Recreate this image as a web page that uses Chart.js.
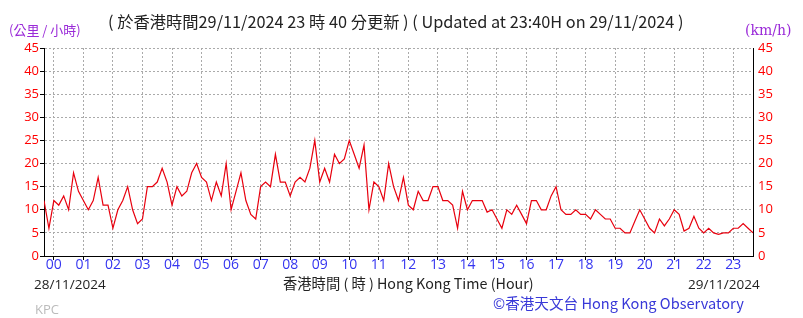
<!DOCTYPE html>
<html>
<head>
<meta charset="utf-8">
<script src="https://cdn.jsdelivr.net/npm/chart.js@4.4.1/dist/chart.umd.min.js"></script>
<style>
  html, body { margin: 0; padding: 0; background: #fff; }
  #wind { display: block; }
</style>
</head>
<body>
<canvas id="wind" width="803" height="318"></canvas>
<script>
// minutes from 00:00 on 29/11, one reading every 10 minutes (from 23:40 on 28/11)
var startMinute = -20;
var stepMinutes = 10;
var windSpeed = [
    12, 6, 12, 11, 13, 10, 18, 14, 12, 10, 12, 17, 11, 11, 6, 10,
    12, 15, 10, 7, 8, 15, 15, 16, 19, 16, 11, 15, 13, 14, 18, 20,
    17, 16, 12, 16, 13, 20, 10, 14, 18, 12, 9, 8, 15, 16, 15, 22,
    16, 16, 13, 16, 17, 16, 19, 25, 16, 19, 16, 22, 20, 21, 25, 22,
    19, 24, 10, 16, 15, 12, 20, 15, 12, 17, 11, 10, 14, 12, 12, 15,
    15, 12, 12, 11, 6, 14, 10, 12, 12, 12, 9.5, 10, 8, 6, 10, 9,
    11, 9, 7, 12, 12, 10, 10, 13, 15, 10, 9, 9, 10, 9, 9, 8,
    10, 9, 8, 8, 6, 6, 5, 5, 7.5, 10, 8, 6, 5, 8, 6.5, 8,
    10, 9, 5.4, 6, 8.6, 6, 5, 6, 5, 4.7, 5, 5, 6, 6, 7, 6, 5
];
var hourLabels = ['00', '01', '02', '03', '04', '05', '06', '07', '08', '09', '10', '11',
    '12', '13', '14', '15', '16', '17', '18', '19', '20', '21', '22', '23'];
var speedTicks = [0, 5, 10, 15, 20, 25, 30, 35, 40, 45];

var points = windSpeed.map(function (v, i) {
    return { x: startMinute + i * stepMinutes, y: v };
});

var cjk = '"Noto Sans CJK TC", "Noto Sans", sans-serif';
var latin = '"Open Sans", "Noto Sans", sans-serif';

var textPlugin = {
    id: 'hkoText',
    afterDraw: function (chart) {
        var ctx = chart.ctx;
        ctx.save();
        ctx.textBaseline = 'alphabetic';

        ctx.fillStyle = '#222';
        ctx.font = '16.3px ' + cjk;
        ctx.fillText('( 於香港時間29/11/2024 23 時 40 分更新 ) ( Updated at 23:40H on 29/11/2024 )', 108, 28);

        ctx.fillStyle = '#9a2ad8';
        ctx.font = '13px ' + cjk;
        ctx.fillText('(公里 / 小時)', 9, 35);
        ctx.font = '14px "DejaVu Serif", "Liberation Serif", serif';
        ctx.fillText('(km/h)', 745, 35);

        ctx.fillStyle = '#222';
        ctx.font = '13.5px ' + latin;
        ctx.fillText('28/11/2024', 34, 289);
        ctx.fillText('29/11/2024', 688, 289);
        ctx.font = '14.3px ' + cjk;
        ctx.fillText('香港時間 ( 時 ) Hong Kong Time (Hour)', 283, 289);

        ctx.fillStyle = '#bbb';
        ctx.font = '13px ' + latin;
        ctx.fillText('KPC', 35, 314);

        ctx.fillStyle = '#3838d8';
        ctx.font = '14.6px ' + cjk;
        ctx.fillText('©香港天文台 Hong Kong Observatory', 493, 309);
        ctx.restore();
    }
};

function yAxis(position) {
    return {
        position: position,
        min: 0,
        max: 45,
        afterBuildTicks: function (scale) {
            scale.ticks = speedTicks.map(function (v) { return { value: v }; });
        },
        afterFit: function (scale) {
            scale.width = position === 'left' ? 44 : 50;
        },
        ticks: {
            color: '#ff0000',
            font: { family: latin, size: 13 },
            padding: 1
        },
        grid: {
            display: position === 'left',
            color: '#aaa',
            tickLength: 4,
            tickColor: '#000'
        },
        border: { display: true, color: '#000', width: 1, dash: [2, 2] }
    };
}

var config = {
    type: 'line',
    data: {
        datasets: [{
            data: points,
            borderColor: '#e8000e',
            borderWidth: 1.2,
            pointRadius: 0,
            tension: 0,
            fill: false
        }]
    },
    plugins: [textPlugin],
    options: {
        responsive: false,
        animation: false,
        layout: { padding: { top: 48, left: 0, right: 0, bottom: 0 } },
        plugins: {
            legend: { display: false },
            tooltip: { enabled: false }
        },
        scales: {
            x: {
                type: 'linear',
                min: -20,
                max: 1420,
                afterBuildTicks: function (scale) {
                    scale.ticks = hourLabels.map(function (h, i) { return { value: i * 60 }; });
                },
                afterFit: function (scale) {
                    scale.height = 62;
                },
                ticks: {
                    color: '#3535f0',
                    font: { family: latin, size: 14 },
                    padding: -3,
                    maxRotation: 0,
                    autoSkip: false,
                    callback: function (value) {
                        return hourLabels[Math.round(value / 60)];
                    }
                },
                grid: {
                    color: '#aaa',
                    tickLength: 4,
                    tickColor: '#000'
                },
                border: { display: true, color: '#000', width: 1, dash: [2, 2] }
            },
            y: yAxis('left'),
            y2: yAxis('right')
        }
    }
};

var chartBg = {
    id: 'bg',
    beforeDraw: function (chart) {
        var ctx = chart.ctx;
        ctx.save();
        ctx.fillStyle = '#fff';
        ctx.fillRect(0, 0, chart.width, chart.height);
        ctx.restore();
    }
};
config.plugins.push(chartBg);

var ctx = document.getElementById('wind').getContext('2d');
window.windChart = new Chart(ctx, config);
</script>
</body>
</html>
